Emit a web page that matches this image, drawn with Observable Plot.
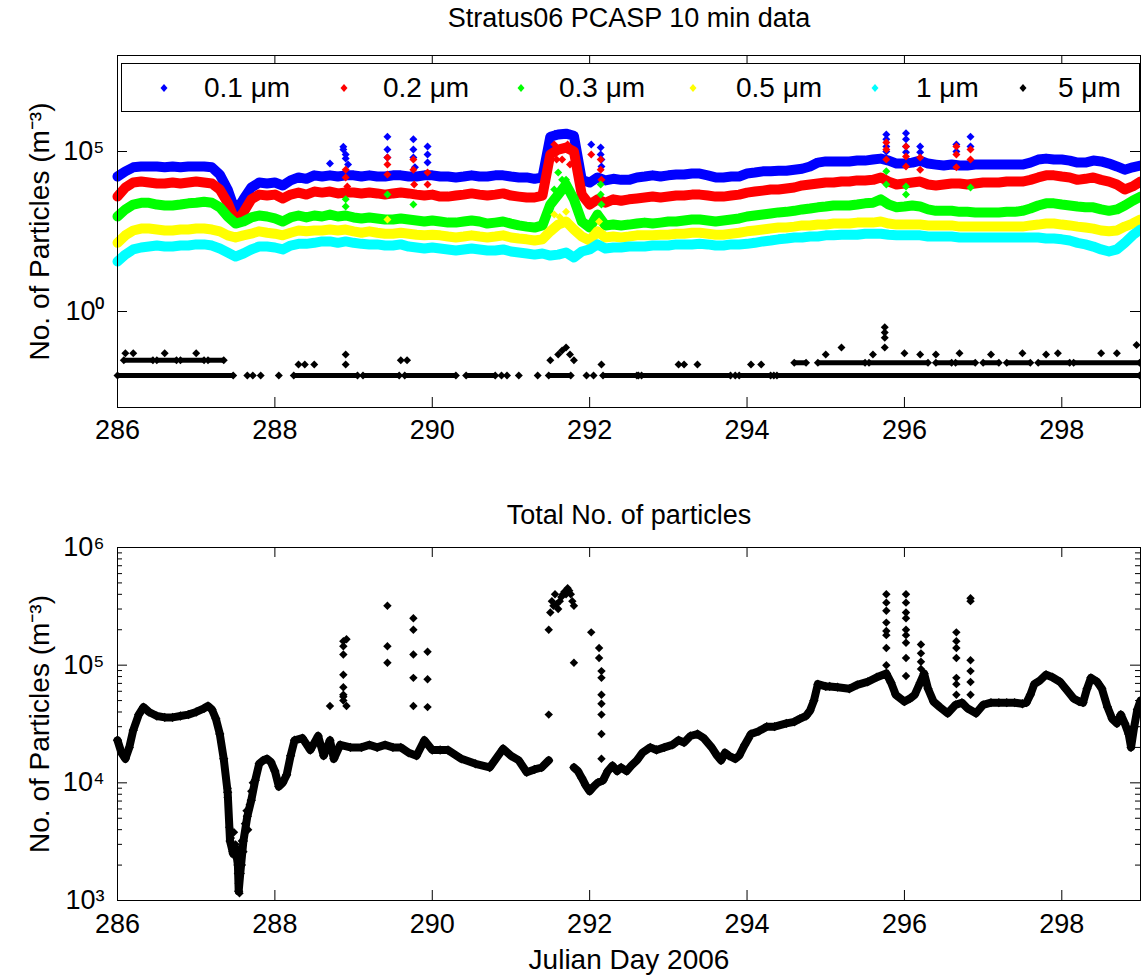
<!DOCTYPE html>
<html><head><meta charset="utf-8">
<script src="https://cdn.jsdelivr.net/npm/d3@7"></script>
<script src="https://cdn.jsdelivr.net/npm/@observablehq/plot@0.6"></script>
<style>
body{margin:0;background:#fff;}
#wrap{position:relative;width:1141px;height:979px;overflow:hidden;font-family:"Liberation Sans",Arial,sans-serif;background:#fff;}
#top,#bottom{position:absolute;left:0;}
#top{top:0;} #bottom{top:490px;}
#legend{position:absolute;left:121px;top:63px;width:1017px;height:47px;border:1px solid #000;background:#fff;}
.item{position:absolute;top:0;height:47px;line-height:47px;font-size:28px;white-space:nowrap;color:#000;}
.mk{position:absolute;top:19px;}
</style></head>
<body><div id="wrap"><div id="top"></div><div id="bottom"></div><div id="legend"></div></div>
<script>
// ---------- data ----------
const days = [
286.0,286.1,286.2,286.3,286.4,286.5,286.6,286.7,286.8,286.9,
287.0,287.1,287.2,287.3,287.4,287.5,287.6,287.7,287.8,287.9,
288.0,288.1,288.2,288.3,288.4,288.5,288.6,288.7,288.8,288.9,
289.0,289.1,289.2,289.3,289.4,289.5,289.6,289.7,289.8,289.9,
290.0,290.1,290.2,290.3,290.4,290.5,290.6,290.7,290.8,290.9,
291.0,291.1,291.2,291.3,291.4,291.5,291.6,291.7,291.8,291.9,
292.0,292.1,292.2,292.3,292.4,292.5,292.6,292.7,292.8,292.9,
293.0,293.1,293.2,293.3,293.4,293.5,293.6,293.7,293.8,293.9,
294.0,294.1,294.2,294.3,294.4,294.5,294.6,294.7,294.8,294.9,
295.0,295.1,295.2,295.3,295.4,295.5,295.6,295.7,295.8,295.9,
296.0,296.1,296.2,296.3,296.4,296.5,296.6,296.7,296.8,296.9,
297.0,297.1,297.2,297.3,297.4,297.5,297.6,297.7,297.8,297.9,
298.0,298.1,298.2,298.3,298.4,298.5,298.6,298.7,298.8,298.9,
299.0];

const size01 = [
1.65e4,2.4e4,3.2e4,3.4e4,3.4e4,3.4e4,3.2e4,3.4e4,3.2e4,3.4e4,
3.4e4,3.4e4,3.2e4,1.9e4,6.5e3,1.3e3,3.2e3,7.5e3,1.07e4,1.0e4,
1.07e4,8.7e3,1.25e4,1.55e4,1.4e4,1.8e4,1.65e4,1.8e4,1.65e4,1.8e4,
1.8e4,1.65e4,1.8e4,1.65e4,1.65e4,1.8e4,1.8e4,1.65e4,1.65e4,1.8e4,
1.8e4,1.65e4,1.65e4,1.55e4,1.65e4,1.8e4,1.65e4,1.65e4,1.8e4,1.8e4,
1.65e4,1.55e4,1.55e4,1.4e4,1.55e4,2.9e5,3.4e5,3.6e5,3.1e5,1.3e4,
1.07e4,1.55e4,1.25e4,1.4e4,1.3e4,1.3e4,1.55e4,1.65e4,1.8e4,1.65e4,
1.8e4,1.9e4,1.9e4,2.05e4,2.05e4,1.8e4,1.55e4,1.55e4,1.65e4,1.65e4,
2.05e4,2.2e4,2.4e4,2.4e4,2.5e4,2.5e4,2.7e4,2.9e4,3.4e4,4.5e4,
4.9e4,4.9e4,4.9e4,4.9e4,5.2e4,5.2e4,5.6e4,6.0e4,5.2e4,4.2e4,
4.2e4,4.5e4,5.2e4,4.2e4,3.9e4,3.65e4,3.9e4,3.65e4,3.65e4,3.9e4,
3.9e4,3.9e4,3.9e4,3.9e4,3.9e4,3.9e4,4.5e4,5.6e4,6.0e4,5.6e4,
5.6e4,5.2e4,4.5e4,4.5e4,5.2e4,4.9e4,4.2e4,3.4e4,2.7e4,3.2e4,
3.65e4];

const size02 = [
3.9e3,7.5e3,1.07e4,1.15e4,1.07e4,1.0e4,1.0e4,1.07e4,1.0e4,1.07e4,
1.15e4,1.07e4,1.0e4,6.5e3,2.5e3,650,1.25e3,3.2e3,4.5e3,4.2e3,
4.5e3,3.4e3,4.5e3,5.2e3,4.5e3,5.6e3,5.2e3,5.6e3,4.9e3,5.2e3,
5.2e3,4.9e3,5.2e3,4.9e3,4.5e3,4.9e3,5.2e3,4.9e3,4.5e3,4.2e3,
4.5e3,3.9e3,3.9e3,4.2e3,4.5e3,4.9e3,4.5e3,4.2e3,4.5e3,4.9e3,
4.2e3,3.9e3,3.65e3,3.65e3,4.2e3,8.1e4,1.15e5,1.33e5,1.0e5,4.5e3,
2.2e3,3.2e3,2.5e3,3.2e3,2.9e3,3.2e3,3.4e3,3.65e3,3.9e3,3.65e3,
3.9e3,4.2e3,4.2e3,4.5e3,4.5e3,4.2e3,3.9e3,3.9e3,4.2e3,4.5e3,
5.2e3,5.6e3,6.0e3,6.5e3,6.5e3,7.0e3,7.5e3,8.7e3,9.3e3,1.0e4,
1.07e4,1.07e4,1.15e4,1.15e4,1.25e4,1.25e4,1.3e4,1.55e4,1.15e4,9.3e3,
1.0e4,1.07e4,1.15e4,9.3e3,8.7e3,9.3e3,1.0e4,1.0e4,9.3e3,1.0e4,
1.07e4,1.07e4,1.07e4,1.15e4,1.15e4,1.15e4,1.3e4,1.55e4,1.8e4,1.8e4,
1.65e4,1.55e4,1.3e4,1.4e4,1.55e4,1.3e4,1.15e4,9.3e3,6.5e3,8.1e3,
1.15e4];

const size03 = [
930,1.55e3,2.2e3,2.5e3,2.5e3,2.2e3,2.05e3,2.05e3,2.2e3,2.4e3,
2.5e3,2.7e3,2.5e3,1.8e3,930,560,650,870,1.0e3,930,
810,650,870,1.0e3,870,1.0e3,930,1.07e3,930,1.0e3,
870,810,870,810,750,750,810,750,700,650,
700,650,600,600,650,700,650,560,600,650,
560,490,450,420,490,2.2e3,4.5e3,9.3e3,3.2e3,650,
420,1.07e3,490,520,490,520,560,600,560,600,
650,650,700,750,750,700,650,700,750,810,
930,1.0e3,1.07e3,1.15e3,1.25e3,1.3e3,1.4e3,1.55e3,1.65e3,1.8e3,
1.9e3,2.05e3,2.05e3,2.05e3,2.2e3,2.4e3,2.5e3,3.2e3,2.2e3,1.8e3,
1.9e3,2.05e3,1.9e3,1.55e3,1.4e3,1.4e3,1.4e3,1.3e3,1.3e3,1.25e3,
1.25e3,1.25e3,1.25e3,1.3e3,1.3e3,1.4e3,1.65e3,2.05e3,2.4e3,2.4e3,
2.2e3,2.05e3,1.9e3,1.8e3,1.8e3,1.55e3,1.4e3,1.55e3,2.05e3,2.9e3,
3.9e3];

const size05 = [
140,240,340,390,390,365,340,340,365,365,
390,390,365,320,240,205,240,270,320,290,
270,240,290,340,320,340,340,365,340,365,
320,290,320,290,270,270,290,270,250,240,
250,240,220,205,220,240,220,205,220,240,
205,190,180,165,180,320,520,650,365,220,
165,320,205,220,205,220,240,240,240,250,
250,270,270,290,290,270,250,250,270,290,
320,340,365,390,420,420,450,490,490,520,
520,560,560,560,600,600,600,650,560,520,
520,520,520,490,490,490,490,450,450,450,
450,450,450,450,450,450,490,520,560,560,
520,490,450,420,390,340,320,340,450,560,
750];

const size1 = [
36.5,60,87,100,107,115,107,107,115,115,
125,125,115,93,70,52,65,87,107,107,
100,87,115,130,130,140,155,155,140,155,
140,130,125,125,115,115,125,107,100,93,
100,93,87,81,87,93,87,81,81,87,
75,70,65,60,65,56,60,70,49,75,
87,125,93,100,100,107,107,107,115,115,
115,125,125,125,130,125,115,115,125,125,
130,140,155,165,180,190,205,205,220,220,
240,240,250,250,250,270,270,270,250,240,
240,240,240,220,220,220,220,205,205,205,
205,205,205,205,205,205,205,205,190,190,
180,165,140,125,107,87,75,87,140,240,
365];

// isolated high points [day, value]
const spikes01 = [[288.7,4.2e4],[288.87,1.4e5],[288.87,1.15e5],[288.9,8.1e4],[288.9,6e4],[288.93,3.9e4],
[289.43,2.9e5],[289.43,1.15e5],[289.43,6.5e4],[289.76,2.4e5],[289.76,1.15e5],[289.76,6.5e4],[289.78,3.2e4],
[289.94,1.43e5],[289.94,8.1e4],[289.94,4.5e4],[291.52,2.9e5],[291.56,3.6e5],[291.62,3.4e5],[291.66,3.6e5],
[291.72,3.4e5],[291.76,3.6e5],[292.02,1.66e5],[292.14,1.33e5],[292.14,8.1e4],[292.15,5.6e4],[292.15,3.4e4],
[295.77,3.4e5],[295.77,2.4e5],[295.77,1.43e5],[295.77,1.0e5],[296.02,3.7e5],[296.02,2.4e5],[296.02,1.43e5],
[296.02,9.5e4],[296.2,1.43e5],[296.2,9.5e4],[296.66,1.66e5],[296.66,1.0e5],[296.84,2.9e5],[296.84,1.43e5]];
const spikes02 = [[288.9,2.7e4],[288.9,1.55e4],[288.92,8.1e3],[289.43,6.5e4],[289.43,3.9e4],[289.43,1.9e4],
[289.76,5.6e4],[289.76,2.7e4],[289.77,9.3e3],[289.94,2.2e4],[289.94,9.3e3],[291.55,1.66e5],[291.58,5.6e4],
[291.65,5.6e4],[291.75,3.9e4],[291.72,1.66e5],[292.02,8.1e4],[292.14,5.6e4],[292.14,2.7e4],[292.15,1.3e4],
[295.77,1.9e5],[295.77,1.15e5],[295.77,5.6e4],[296.02,1.43e5],[296.02,7e4],[296.02,3.4e4],[296.2,6.5e4],
[296.2,2.7e4],[296.66,1.43e5],[296.66,8.1e4],[296.66,3.2e4],[296.84,1.15e5],[296.84,5.6e4]];
const spikes03 = [[288.9,3.2e3],[288.9,1.9e3],[289.43,4.5e3],[289.76,2.2e3],[291.6,2.2e4],[291.65,1.3e4],
[291.7,1.3e4],[291.75,6.5e3],[291.55,6.5e3],[292.14,9.3e3],[292.14,4.5e3],[292.15,2.2e3],[295.77,2.4e4],
[295.77,9.3e3],[296.02,8.1e3],[296.02,4.5e3],[296.84,7.5e3]];
const spikes05 = [[289.43,750],[291.55,1.07e3],[291.7,1.3e3],[291.62,900],[292.12,650]];

// 5 um: continuous rows [start day, end day, value] and single points [day, value]
const size5Rows = [[286.0,287.47,0.01],[288.24,289.05,0.01],[289.12,289.58,0.01],[289.65,290.3,0.01],
[290.43,290.8,0.01],[291.48,291.76,0.01],[292.17,292.6,0.01],[292.66,293.79,0.01],[293.9,294.3,0.01],
[294.38,298.99,0.01],[286.08,286.45,0.03],[286.5,286.75,0.03],[286.8,287.1,0.03],[287.15,287.35,0.03],
[294.6,294.75,0.025],[294.9,295.5,0.025],[295.55,296.3,0.025],[296.4,296.6,0.025],[296.65,296.9,0.025],
[297.0,297.2,0.025],[297.3,297.6,0.025],[297.7,298.1,0.025],[298.15,298.99,0.025]];
const size5Points = [[287.65,0.01],[287.72,0.01],[287.82,0.01],[288.05,0.01],[290.88,0.01],[290.95,0.01],
[291.1,0.01],[291.34,0.01],[291.96,0.01],[292.05,0.01],[292.62,0.01],[293.85,0.01],[294.34,0.01],
[288.3,0.022],[288.38,0.022],[288.5,0.022],[288.9,0.045],[288.9,0.022],[289.6,0.03],[289.68,0.03],
[291.5,0.03],[291.6,0.045],[291.65,0.06],[291.7,0.075],[291.75,0.045],[291.8,0.03],[292.15,0.022],
[293.13,0.022],[293.2,0.022],[293.37,0.022],[294.05,0.022],[294.18,0.022],
[286.1,0.05],[286.2,0.05],[286.6,0.05],[287.0,0.05],[295.2,0.075],[295.0,0.045],[295.6,0.045],
[295.75,0.32],[295.75,0.22],[295.75,0.15],[295.75,0.075],[296.0,0.05],[296.2,0.045],[296.4,0.045],
[296.7,0.05],[297.1,0.045],[297.5,0.05],[297.8,0.045],[297.95,0.05],[298.5,0.05],[298.7,0.05],[298.95,0.09]];

// total number of particles: main trace [day, value] (null = gap) and isolated points
const totalTrace = [[286.00,2.3e4],[286.05,1.8e4],[286.10,1.6e4],[286.15,2.0e4],[286.20,2.8e4],[286.27,3.8e4],
[286.33,4.4e4],[286.40,4.0e4],[286.50,3.7e4],[286.60,3.6e4],[286.70,3.6e4],[286.80,3.7e4],[286.90,3.8e4],
[287.00,4.0e4],[287.10,4.3e4],[287.15,4.5e4],[287.20,4.2e4],[287.25,3.5e4],[287.30,2.6e4],[287.35,1.6e4],
[287.40,8.3e3],[287.43,3.2e3],[287.47,2.5e3],[287.50,2.8e3],[287.53,2.0e3],[287.54,1.2e3],[287.56,1.7e3],
[287.60,3.2e3],[287.65,5.2e3],[287.70,7.1e3],[287.75,1.05e4],[287.80,1.45e4],[287.85,1.55e4],[287.90,1.6e4],
[287.95,1.5e4],[288.00,1.26e4],[288.05,9.3e3],[288.10,1.0e4],[288.15,1.17e4],[288.20,1.7e4],[288.25,2.3e4],
[288.35,2.4e4],[288.45,1.9e4],[288.55,2.5e4],[288.62,1.7e4],[288.70,2.3e4],[288.75,1.6e4],[288.83,2.1e4],
[288.96,2.0e4],[289.10,2.0e4],[289.20,2.1e4],[289.30,2.0e4],[289.40,2.1e4],[289.50,2.0e4],[289.60,2.0e4],
[289.70,1.8e4],[289.80,1.7e4],[289.90,2.3e4],[290.00,1.9e4],[290.10,1.9e4],[290.20,1.9e4],[290.37,1.6e4],
[290.55,1.45e4],[290.73,1.35e4],[290.90,1.95e4],[291.00,1.7e4],[291.10,1.55e4],[291.20,1.23e4],[291.30,1.3e4],
[291.39,1.35e4],[291.48,1.55e4],[291.6,null],[291.80,1.35e4],[291.85,1.26e4],[291.90,1.1e4],[291.95,9.5e3],
[292.00,8.5e3],[292.05,9.3e3],[292.10,1.0e4],[292.17,1.05e4],[292.23,1.26e4],[292.29,1.4e4],[292.35,1.26e4],
[292.40,1.35e4],[292.47,1.26e4],[292.53,1.4e4],[292.60,1.55e4],[292.67,1.8e4],[292.77,2.0e4],[292.85,1.9e4],
[292.95,2.0e4],[293.05,2.1e4],[293.13,2.3e4],[293.20,2.2e4],[293.28,2.5e4],[293.37,2.6e4],[293.45,2.4e4],
[293.55,2.0e4],[293.62,1.7e4],[293.67,1.55e4],[293.72,1.8e4],[293.77,1.7e4],[293.85,1.6e4],[293.90,1.7e4],
[293.97,2.1e4],[294.05,2.6e4],[294.15,2.75e4],[294.25,3.0e4],[294.35,3.0e4],[294.50,3.2e4],[294.60,3.3e4],
[294.67,3.5e4],[294.75,3.7e4],[294.80,4.1e4],[294.85,5.0e4],[294.90,6.9e4],[295.00,6.6e4],[295.05,6.6e4],
[295.15,6.5e4],[295.30,6.3e4],[295.40,6.8e4],[295.53,7.2e4],[295.65,7.9e4],[295.77,8.5e4],[295.83,7.1e4],
[295.89,5.6e4],[296.00,4.9e4],[296.07,5.2e4],[296.13,5.6e4],[296.20,7.1e4],[296.25,8.5e4],[296.30,6.3e4],
[296.37,4.9e4],[296.45,4.4e4],[296.55,3.9e4],[296.65,4.6e4],[296.73,4.8e4],[296.80,4.3e4],[296.91,3.9e4],
[297.00,4.6e4],[297.10,4.8e4],[297.20,4.8e4],[297.30,4.8e4],[297.40,4.8e4],[297.50,4.7e4],[297.55,4.8e4],
[297.60,5.6e4],[297.65,6.9e4],[297.72,7.4e4],[297.80,8.3e4],[297.88,7.9e4],[297.98,7.2e4],[298.05,6.3e4],
[298.15,5.2e4],[298.22,4.9e4],[298.27,4.8e4],[298.32,6.3e4],[298.37,7.8e4],[298.45,7.2e4],[298.51,6.3e4],
[298.58,4.4e4],[298.64,3.5e4],[298.70,3.2e4],[298.75,3.8e4],[298.80,3.2e4],[298.85,2.6e4],[298.88,2.0e4],
[298.92,3.0e4],[298.96,4.2e4],[299.00,5.0e4]];
const totalSpikes = [[288.70,4.5e4],[288.87,1.6e5],[288.87,1.45e5],[288.87,1.23e5],[288.87,8.3e4],[288.87,6.5e4],
[288.87,5.6e4],[288.87,5.4e4],[288.87,5.0e4],[288.91,1.66e5],[288.91,4.5e4],[289.43,3.2e5],[289.43,1.45e5],
[289.43,1.05e5],[289.76,2.5e5],[289.76,2.0e5],[289.76,1.23e5],[289.76,7.8e4],[289.76,4.5e4],[289.94,1.3e5],
[289.94,7.6e4],[289.94,4.4e4],[291.48,2.0e5],[291.48,3.8e4],[291.50,2.8e5],[291.52,3.5e5],[291.54,3.2e5],
[291.56,4.0e5],[291.58,3.3e5],[291.60,3.0e5],[291.62,3.5e5],[291.64,3.8e5],[291.66,4.0e5],[291.68,4.2e5],
[291.70,4.0e5],[291.72,4.5e5],[291.74,4.3e5],[291.76,4.0e5],[291.78,3.5e5],[291.80,3.2e5],[291.80,1.05e5],
[292.02,1.9e5],[292.12,1.4e5],[292.12,1.15e5],[292.15,8.9e4],[292.15,7.8e4],[292.15,5.6e4],[292.15,4.7e4],
[292.15,3.8e4],[292.15,2.6e4],[292.15,1.6e4],[295.77,4.0e5],[295.77,3.4e5],[295.77,2.9e5],[295.77,2.3e5],
[295.77,1.95e5],[295.77,1.8e5],[295.77,1.4e5],[295.77,1.0e5],[296.02,4.0e5],[296.02,3.4e5],[296.02,2.8e5],
[296.02,2.5e5],[296.02,2.0e5],[296.02,1.8e5],[296.02,1.55e5],[296.02,1.15e5],[296.02,8.1e4],[296.21,1.5e5],
[296.21,1.26e5],[296.21,1.07e5],[296.21,9.3e4],[296.66,1.9e5],[296.66,1.6e5],[296.66,1.4e5],[296.66,1.15e5],
[296.66,7.8e4],[296.66,6.9e4],[296.66,5.6e4],[296.84,3.7e5],[296.84,3.5e5],[296.84,1.1e5],[296.84,8.9e4],
[296.84,7.2e4],[296.84,5.6e4],
[287.40,9.0e3],[287.40,7.5e3],[287.42,4.2e3],[287.44,3.4e3],[287.46,2.6e3],[287.48,3.8e3],[287.50,3.0e3],
[287.51,2.3e3],[287.53,1.7e3],[287.54,1.4e3],[287.55,1.15e3],[287.58,3.2e3],[287.58,2.0e3],[287.60,2.6e3],
[287.62,4.5e3],[287.64,5.8e3],[287.66,4.0e3],[287.68,6.5e3],[287.70,8.5e3],[287.72,1.0e4]];

const seriesNames = ["0.1 μm","0.2 μm","0.3 μm","0.5 μm","1 μm","5 μm"];
const seriesColors = ["#0000ff","#ff0000","#00ff00","#ffff00","#00ffff","#000000"];
const xTicks = [286,288,290,292,294,296,298];
const topYTicks = [1,1e5];
const bottomYTicks = [1e3,1e4,1e5,1e6];
const bottomYMinor = [2e3,3e3,4e3,5e3,6e3,7e3,8e3,9e3,2e4,3e4,4e4,5e4,6e4,7e4,8e4,9e4,2e5,3e5,4e5,5e5,6e5,7e5,8e5,9e5];

// ---------- drawing ----------
const sup = {"-":"⁻","0":"⁰","1":"¹","2":"²","3":"³","4":"⁴","5":"⁵","6":"⁶","7":"⁷","8":"⁸","9":"⁹"};
const pow10 = d => "10" + String(Math.round(Math.log10(d))).split("").map(c => sup[c]).join("");
const FONT = "Liberation Sans, Arial, Helvetica, sans-serif";
const W = 1141, ML = 117, MR = 1;
const PW = W - ML - MR;

function frameTicks(plotH, majorY, minorY) {
  const m = [
    Plot.frame({stroke: "#000", strokeWidth: 1}),
    Plot.tickX(xTicks, {x: d => d, insetTop: plotH - 10, stroke: "#000"}),
    Plot.tickX(xTicks, {x: d => d, insetBottom: plotH - 10, stroke: "#000"}),
    Plot.tickY(majorY, {y: d => d, insetRight: PW - 10, stroke: "#000"}),
    Plot.tickY(majorY, {y: d => d, insetLeft: PW - 10, stroke: "#000"})
  ];
  if (minorY) {
    m.push(Plot.tickY(minorY, {y: d => d, insetRight: PW - 5, stroke: "#000"}));
    m.push(Plot.tickY(minorY, {y: d => d, insetLeft: PW - 5, stroke: "#000"}));
  }
  return m;
}

const bandSeries = [size01, size02, size03, size05, size1];
const spikeSeries = [spikes01, spikes02, spikes03, spikes05, []];
const topMarks = [];
bandSeries.forEach((vals, k) => {
  const rows = days.map((d, i) => ({day: d, v: vals[i]}));
  topMarks.push(Plot.line(rows, {x: "day", y: "v", stroke: seriesColors[k], strokeWidth: 10, strokeLinejoin: "round", strokeLinecap: "round"}));
  topMarks.push(Plot.dot(rows, {x: "day", y: "v", symbol: "diamond2", r: 3.8, fill: seriesColors[k]}));
  topMarks.push(Plot.dot(spikeSeries[k], {x: d => d[0], y: d => d[1], symbol: "diamond2", r: 3.6, fill: seriesColors[k]}));
});
topMarks.push(Plot.ruleY(size5Rows, {x1: d => d[0], x2: d => d[1], y: d => d[2], stroke: "#000", strokeWidth: 5}));
topMarks.push(Plot.dot(size5Rows.flatMap(d => [[d[0], d[2]], [d[1], d[2]]]), {x: d => d[0], y: d => d[1], symbol: "diamond2", r: 3.6, fill: "#000"}));
topMarks.push(Plot.dot(size5Points, {x: d => d[0], y: d => d[1], symbol: "diamond2", r: 3.6, fill: "#000"}));

const topH = 440, topMT = 55, topMB = 33;
const topPlot = Plot.plot({
  width: W, height: topH, marginLeft: ML, marginRight: MR, marginTop: topMT, marginBottom: topMB,
  style: {fontFamily: FONT, fontSize: "27px", color: "#000", background: "transparent", overflow: "visible"},
  x: {domain: [286, 299]},
  y: {type: "log", domain: [1e-3, 1e8]},
  marks: [
    ...topMarks,
    ...frameTicks(topH - topMT - topMB, topYTicks, null),
    Plot.axisX(xTicks, {tickSize: 0, tickPadding: 12, tickFormat: d => String(d), fontSize: 27, label: null}),
    Plot.axisY(topYTicks, {tickSize: 0, tickPadding: 13, tickFormat: pow10, fontSize: 27, label: null}),
    Plot.text(["No. of Particles (m⁻³)"], {text: d => d, frameAnchor: "left", dx: -77, rotate: -90, textAnchor: "middle", lineAnchor: "middle", fontSize: 28}),
    Plot.text(["Stratus06 PCASP 10 min data"], {text: d => d, frameAnchor: "top", dy: -37, lineAnchor: "middle", fontSize: 27})
  ]
});
document.getElementById("top").appendChild(topPlot);

const botH = 490, botMT = 57, botMB = 80;
const bottomPlot = Plot.plot({
  width: W, height: botH, marginLeft: ML, marginRight: MR, marginTop: botMT, marginBottom: botMB,
  style: {fontFamily: FONT, fontSize: "27px", color: "#000", background: "transparent", overflow: "visible"},
  x: {domain: [286, 299]},
  y: {type: "log", domain: [1e3, 1e6]},
  marks: [
    Plot.line(totalTrace, {x: d => d[0], y: d => d[1], stroke: "#000", strokeWidth: 8, strokeLinejoin: "round"}),
    Plot.dot(totalTrace.filter(d => d[1] != null), {x: d => d[0], y: d => d[1], symbol: "diamond2", r: 4.2, fill: "#000"}),
    Plot.dot(totalSpikes, {x: d => d[0], y: d => d[1], symbol: "diamond2", r: 3.8, fill: "#000"}),
    ...frameTicks(botH - botMT - botMB, bottomYTicks, bottomYMinor),
    Plot.axisX(xTicks, {tickSize: 0, tickPadding: 13, tickFormat: d => String(d), fontSize: 27, label: null}),
    Plot.axisY(bottomYTicks, {tickSize: 0, tickPadding: 13, tickFormat: pow10, fontSize: 27, label: null}),
    Plot.text(["No. of Particles (m⁻³)"], {text: d => d, frameAnchor: "left", dx: -77, rotate: -90, textAnchor: "middle", lineAnchor: "middle", fontSize: 28}),
    Plot.text(["Total No. of particles"], {text: d => d, frameAnchor: "top", dy: -32, lineAnchor: "middle", fontSize: 27}),
    Plot.text(["Julian Day 2006"], {text: d => d, frameAnchor: "bottom", dy: 60, lineAnchor: "middle", fontSize: 28})
  ]
});
document.getElementById("bottom").appendChild(bottomPlot);

// legend (inside the upper axes box)
const legendMarkerX = [42, 222, 399, 571, 753, 901];
const legendTextX = [82, 261, 437, 614, 794, 936];
const legend = document.getElementById("legend");
seriesNames.forEach((name, i) => {
  const mk = document.createElementNS("http://www.w3.org/2000/svg", "svg");
  mk.setAttribute("width", 10); mk.setAttribute("height", 10);
  mk.setAttribute("class", "mk");
  mk.style.left = (legendMarkerX[i] - 5) + "px";
  mk.innerHTML = `<polygon points="5,1 8.5,5 5,9 1.5,5" fill="${seriesColors[i]}"/>`;
  legend.appendChild(mk);
  const t = document.createElement("div");
  t.className = "item";
  t.style.left = legendTextX[i] + "px";
  t.textContent = name;
  legend.appendChild(t);
});
</script></body></html>
